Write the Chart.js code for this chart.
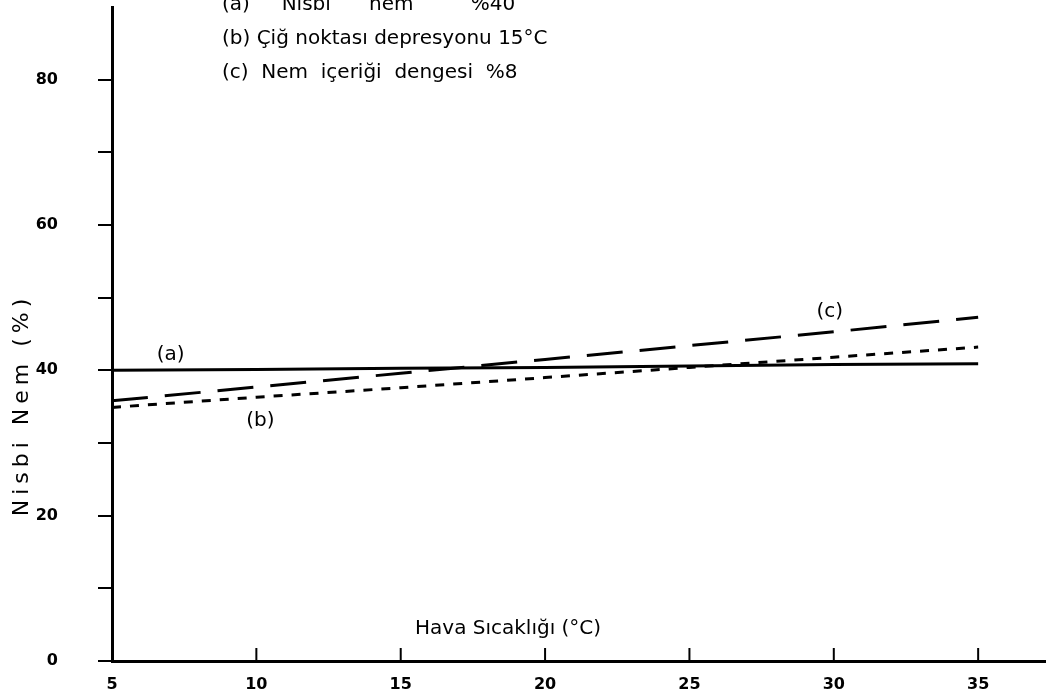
<!DOCTYPE html>
<html>
<head>
<meta charset="utf-8">
<script src="https://cdn.jsdelivr.net/npm/chart.js@4/dist/chart.umd.min.js"></script>
<style>
  html, body { margin: 0; padding: 0; background: #fff; }
  canvas { display: block; }
</style>
</head>
<body>
<canvas id="chart" width="1046" height="694"></canvas>
<script>
// values
const temps = [5, 10, 15, 20, 25, 30, 35];
const humidityA = [40, 40.1, 40.3, 40.4, 40.6, 40.8, 40.9];
const humidityB = [34.9, 36.3, 37.6, 39.0, 40.4, 41.8, 43.2];
const humidityC = [35.8, 37.7, 39.6, 41.5, 43.4, 45.3, 47.3];
const xTicks = [5, 10, 15, 20, 25, 30, 35];
const yTicks = [0, 10, 20, 30, 40, 50, 60, 70, 80];
const yLabelled = [0, 20, 40, 60, 80];

const legendLines = [
  '(a)     Nisbi      nem         %40',
  '(b) Çiğ noktası depresyonu 15°C',
  '(c)  Nem  içeriği  dengesi  %8'
];
const curveLabels = [
  { text: '(a)', x: 6.55, y: 42.1 },
  { text: '(b)', x: 9.65, y: 33.0 },
  { text: '(c)', x: 29.4, y: 48.0 }
];
const xTitle = 'Hava Sıcaklığı (°C)';
const yTitle = 'Nisbi Nem (%)';

const handFont = '"DejaVu Sans", sans-serif';

// texts and upward x tick marks
const drawingExtras = {
  id: 'drawingExtras',
  afterDraw(chart) {
    const ctx = chart.ctx;
    const x = chart.scales.x;
    const y = chart.scales.y;
    ctx.save();

    // x tick marks pointing up
    ctx.strokeStyle = '#000';
    ctx.lineWidth = 2;
    xTicks.forEach(t => {
      if (t === 5) return;
      const px = x.getPixelForValue(t);
      ctx.beginPath();
      ctx.moveTo(px, y.bottom);
      ctx.lineTo(px, y.bottom - 13);
      ctx.stroke();
    });

    ctx.fillStyle = '#000';
    ctx.textBaseline = 'middle';
    ctx.textAlign = 'left';
    ctx.font = '20px ' + handFont;
    legendLines.forEach((t, i) => {
      ctx.fillText(t, 222, 5 + i * 34);
    });

    curveLabels.forEach(l => {
      ctx.fillText(l.text, x.getPixelForValue(l.x), y.getPixelForValue(l.y));
    });

    ctx.fillText(xTitle, 415, 629);

    ctx.translate(22, 405);
    ctx.rotate(-Math.PI / 2);
    ctx.textAlign = 'center';
    ctx.font = '22px ' + handFont;
    ctx.letterSpacing = '5px';
    ctx.fillText(yTitle, 0, 0);
    ctx.restore();
  }
};

new Chart(document.getElementById('chart'), {
  type: 'line',
  data: {
    labels: temps,
    datasets: [
      {
        label: '(a)',
        data: temps.map((t, i) => ({ x: t, y: humidityA[i] })),
        borderColor: '#000',
        borderWidth: 3,
        pointRadius: 0,
        fill: false
      },
      {
        label: '(b)',
        data: temps.map((t, i) => ({ x: t, y: humidityB[i] })),
        borderColor: '#000',
        borderWidth: 3,
        borderDash: [9, 9],
        pointRadius: 0,
        fill: false
      },
      {
        label: '(c)',
        data: temps.map((t, i) => ({ x: t, y: humidityC[i] })),
        borderColor: '#000',
        borderWidth: 3,
        borderDash: [36, 17],
        pointRadius: 0,
        fill: false
      }
    ]
  },
  options: {
    responsive: false,
    animation: false,
    devicePixelRatio: 1,
    layout: { padding: { top: 7, right: 0, left: 0, bottom: 0 } },
    plugins: {
      legend: { display: false },
      tooltip: { enabled: false }
    },
    scales: {
      x: {
        type: 'linear',
        min: 5,
        max: 37.35,
        afterBuildTicks: s => { s.ticks = xTicks.map(v => ({ value: v })); },
        afterFit: s => {
          s.height = 33;
          s.paddingLeft = 0;
          s.paddingRight = 0;
        },
        grid: { display: false },
        border: { display: true, color: '#000', width: 3 },
        ticks: {
          padding: 6,
          color: '#000',
          font: { family: 'DejaVu Sans', size: 16, weight: 'bold' }
        }
      },
      y: {
        min: 0,
        max: 90,
        afterBuildTicks: s => { s.ticks = yTicks.map(v => ({ value: v })); },
        afterFit: s => {
          s.width = 112;
          s.paddingTop = 0;
          s.paddingBottom = 0;
        },
        grid: {
          drawOnChartArea: false,
          drawTicks: true,
          tickLength: 14,
          color: '#000',
          lineWidth: 2
        },
        border: { display: true, color: '#000', width: 3 },
        ticks: {
          padding: 40,
          color: '#000',
          font: { family: 'DejaVu Sans', size: 16, weight: 'bold' },
          callback: v => yLabelled.includes(v) ? String(v) : ''
        }
      }
    }
  },
  plugins: [drawingExtras]
});
</script>
</body>
</html>
